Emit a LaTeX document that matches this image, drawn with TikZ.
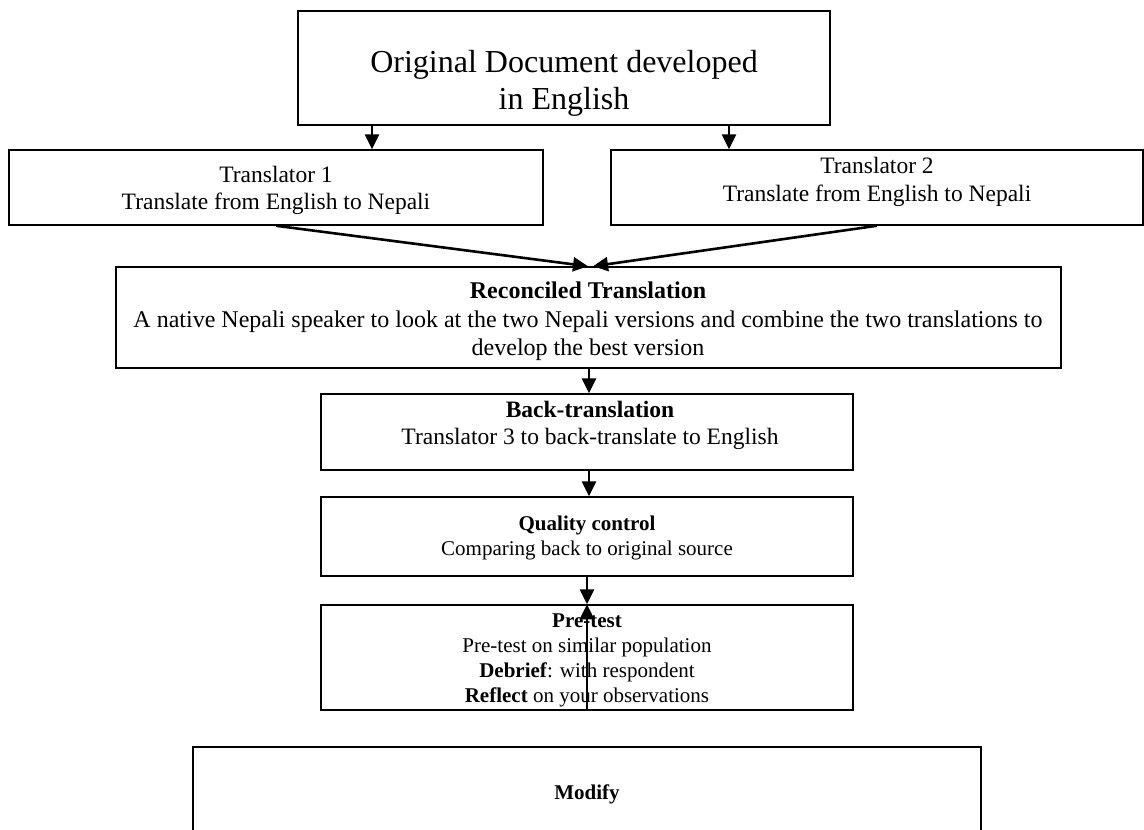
\documentclass[tikz,border=0pt]{standalone}
\usepackage{fontspec}
\setmainfont{Liberation Serif}
\usetikzlibrary{arrows.meta}
\begin{document}
\begin{tikzpicture}[x=1pt,y=-1pt,
  box/.style={draw=black, line width=1.5pt, inner sep=0pt},
  conn/.style={line width=2.6pt, -{Triangle[length=15pt,width=14pt]}},
  bigtxt/.style={anchor=base, inner sep=0pt, font=\fontsize{32}{37}\selectfont},
  midtxt/.style={anchor=base, inner sep=0pt, font=\fontsize{23.5}{27}\selectfont},
  widetxt/.style={anchor=base, inner sep=0pt, font=\fontsize{24}{27}\selectfont},
  smalltxt/.style={anchor=base, inner sep=0pt, font=\fontsize{21}{25}\selectfont}]
\useasboundingbox (0,0) rectangle (1144,830);
\clip (0,0) rectangle (1144,830);

% boxes
\node[box, minimum width=532pt, minimum height=114pt] (orig) at (564,68) {};
\node[box, minimum width=534pt, minimum height=75pt] (tr1) at (276,187.5) {};
\node[box, minimum width=532pt, minimum height=75pt] (tr2) at (877,187.5) {};
\node[box, minimum width=945pt, minimum height=101pt] (recon) at (588.5,317.5) {};
\node[box, minimum width=532pt, minimum height=76pt] (back) at (587,432) {};
\node[box, minimum width=532pt, minimum height=79pt] (qc) at (587,536.5) {};
\node[box, minimum width=532pt, minimum height=105pt] (pre) at (587,657.5) {};
\node[box, minimum width=788pt, minimum height=106pt] (mod) at (587,800) {};

% texts
\node[bigtxt] (origA) at (564,72) {Original Document developed};
\node[bigtxt] (origB) at (564,109) {in English};

\node[midtxt] (tr1A) at (276,182) {Translator 1};
\node[midtxt] (tr1B) at (276,209) {Translate from English to Nepali};
\node[midtxt] (tr2A) at (877,173) {Translator 2};
\node[midtxt] (tr2B) at (877,201) {Translate from English to Nepali};

\node[widetxt] (reconA) at (588,298) {\textbf{Reconciled Translation}};
\node[widetxt] (reconB) at (588,327) {A native Nepali speaker to look at the two Nepali versions and combine the two translations to};
\node[widetxt] (reconC) at (588,355) {develop the best version};

\node[midtxt] (backA) at (590,417) {\textbf{Back-translation}};
\node[midtxt] (backB) at (590,444) {Translator 3 to back-translate to English};

\node[smalltxt] (qcA) at (587,530) {\textbf{Quality control}};
\node[smalltxt] (qcB) at (587,555) {Comparing back to original source};

\node[smalltxt] (preA) at (587,627) {\textbf{Pre-test}};
\node[smalltxt] (preB) at (587,652) {Pre-test on similar population};
\node[smalltxt] (preC) at (587,677) {\textbf{Debrief}: with respondent};
\node[smalltxt] (preD) at (587,702) {\textbf{Reflect} on your observations};

\node[smalltxt] (modA) at (587,799) {\textbf{Modify}};

% connectors
\coordinate (xl) at (372,0);
\coordinate (xr) at (729,0);
\coordinate (xc) at (589,0);
\coordinate (xd) at (587,0);
\draw[conn] (orig.south -| xl) -- (tr1.north -| xl);
\draw[conn] (orig.south -| xr) -- (tr2.north -| xr);
\draw[conn] (tr1.south) -- ([xshift=-0.5pt]recon.north);
\draw[conn] (tr2.south) -- ([xshift=4.5pt]recon.north);
\draw[conn] (recon.south -| xc) -- (back.north -| xc);
\draw[conn] (back.south -| xc) -- (qc.north -| xc);
\draw[conn] (qc.south -| xd) -- (pre.north -| xd);
\draw[conn] (pre.south -| xd) -- (pre.north -| xd);
\end{tikzpicture}
\end{document}
